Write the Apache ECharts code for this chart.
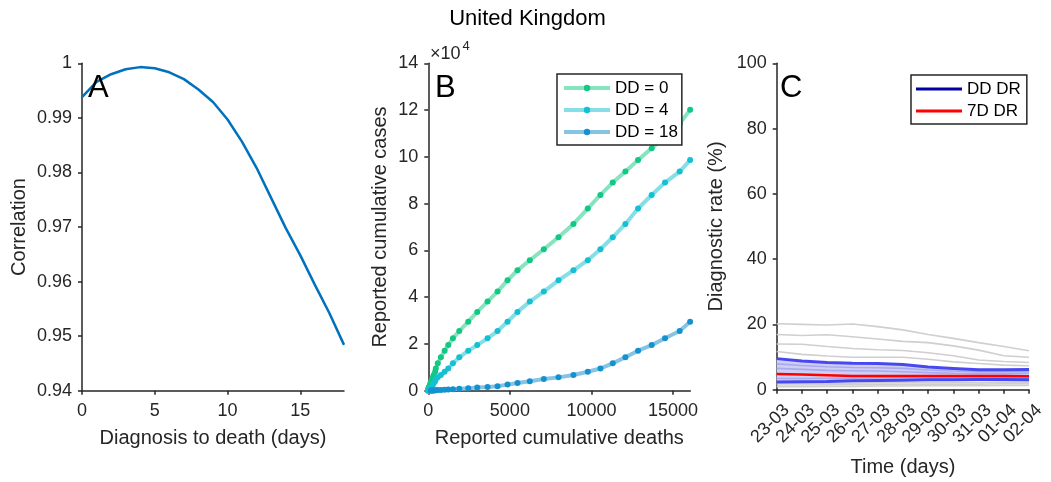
<!DOCTYPE html>
<html>
<head>
<meta charset="utf-8">
<script src="https://cdn.jsdelivr.net/npm/echarts@6/dist/echarts.min.js"></script>
<style>
html,body{margin:0;padding:0;background:#fff;}
#chart{width:1051px;height:482px;}
</style>
</head>
<body>
<div id="chart"></div>
<script>
// ---------- Panel A ----------
var ddDays = [0,1,2,3,4,5,6,7,8,9,10,11,12,13,14,15,16,17,18];
var correlation = [0.9938,0.9966,0.9980,0.9989,0.9993,0.9991,0.99835,0.9971,0.9952,0.9929,0.9897,0.9856,0.9808,0.9753,0.9698,0.9648,0.9594,0.9542,0.9484];
var aXTicks = [0,5,10,15];

// ---------- Panel B (daily, 01-03 .. 19-04) ----------
var cumDeaths = [0,0,0,0,1,1,2,2,3,6,
  8,8,10,21,35,55,71,104,144,177,
  233,280,335,420,460,580,770,1000,1224,1510,
  1898,2449,3000,3633,4245,4857,5469,6224,7082,7980,
  8898,9776,10551,11306,12082,12857,13694,14510,15408,16050];
var cumCases = [36,40,50,85,115,160,210,270,320,370,
  460,590,800,1060,1390,1550,1950,2600,3300,4000,
  5000,5700,6700,8100,9500,11700,14300,17100,19500,22400,
  25500,29500,33700,38100,42400,47200,51500,55800,60500,65600,
  71300,77900,83700,89000,93700,98600,103700,108700,114200,120100];
var ddValues = [0,4,18];
var ddNames = ['DD = 0','DD = 4','DD = 18'];
var bXTicks = [0,5000,10000,15000];

// ---------- Panel C ----------
var cDates = ['23-03','24-03','25-03','26-03','27-03','28-03','29-03','30-03','31-03','01-04','02-04'];
var gray1 = [20.2,20.0,19.8,20.1,19.3,18.3,16.9,15.7,14.4,13.2,11.9];
var gray2 = [16.9,16.6,16.8,16.2,15.5,14.8,14.4,13.4,12.1,10.4,9.9];
var gray3 = [14.0,13.9,13.2,12.6,12.2,12.0,11.3,10.4,9.1,8.6,8.3];
var gray4 = [11.7,10.8,10.3,9.9,9.9,9.9,9.3,8.5,8.0,7.5,7.3];
var grayLow1 = [1.9,1.9,2.0,2.0,2.1,2.1,2.2,2.2,2.2,2.3,2.3];
var grayLow2 = [1.4,1.4,1.5,1.5,1.6,1.6,1.7,1.7,1.7,1.8,1.8];
var grayLow3 = [0.9,0.9,1.0,1.0,1.1,1.1,1.2,1.2,1.2,1.3,1.3];
var ddUpper = [9.5,8.8,8.3,8.1,8.0,7.7,6.9,6.5,6.1,6.1,6.2];
var ddLower = [2.3,2.4,2.5,2.7,2.8,2.9,3.0,3.0,3.1,3.1,3.0];
var inner1 = [7.9,7.4,7.0,6.8,6.7,6.5,6.0,5.7,5.5,5.5,5.6];
var inner2 = [6.5,6.2,5.9,5.8,5.7,5.5,5.2,5.0,4.9,4.9,5.0];
var inner3 = [3.4,3.4,3.5,3.5,3.6,3.6,3.6,3.6,3.7,3.7,3.6];
var sevenD = [4.8,4.6,4.4,4.2,4.2,4.2,4.2,4.2,4.2,4.2,4.1];

var FONT = '"Liberation Sans", Arial, Helvetica, sans-serif';
var INK = '#262626';
var markerColors = ['#12c884','#14c0d2','#1492d0'];
var lineColors = ['#86e4bf','#86dfe7','#86c4e4'];

function axisBase(extra){
  var o = {
    axisLine:{show:true,onZero:false,lineStyle:{color:INK,width:1.5}},
    axisTick:{show:true,inside:false,length:4,lineStyle:{color:INK,width:1.5}},
    axisLabel:{color:INK,fontSize:18,fontFamily:FONT},
    splitLine:{show:false},
    nameLocation:'middle',
    nameTextStyle:{color:INK,fontSize:20,fontFamily:FONT}
  };
  for (var k in extra){
    if (typeof extra[k]==='object' && !Array.isArray(extra[k]) && o[k]) {
      for (var j in extra[k]) o[k][j]=extra[k][j];
    } else o[k]=extra[k];
  }
  return o;
}

var grids = [
  {left:82, top:63.3, width:262, height:327.4},
  {left:428.3, top:63.3, width:262, height:327.4},
  {left:776.7, top:63.3, width:259, height:327.4}
];

var series = [];
// A
series.push({type:'line', xAxisIndex:0, yAxisIndex:0, name:'corr',
  data: ddDays.map(function(d,i){return [d, correlation[i]];}),
  showSymbol:false, symbol:'none', lineStyle:{color:'#0072BD', width:2.5}, itemStyle:{color:'#0072BD'}, z:3});

// B
for (var s=0; s<ddValues.length; s++){
  var dd = ddValues[s], pts=[];
  for (var i=0; i+dd<cumDeaths.length; i++) pts.push([cumDeaths[i+dd], cumCases[i]]);
  series.push({type:'line', xAxisIndex:1, yAxisIndex:1, name:ddNames[s], data:pts,
    symbol:'circle', symbolSize:6, showSymbol:true,
    itemStyle:{color:markerColors[s], borderWidth:0},
    lineStyle:{color:lineColors[s], width:4}, z:3+s});
}

// C
function cLine(name, data, color, width, z){
  return {type:'line', xAxisIndex:2, yAxisIndex:2, name:name, data:data, symbol:'none', showSymbol:false,
    lineStyle:{color:color, width:width}, itemStyle:{color:color}, z:z};
}
[gray1,gray2,gray3,gray4,grayLow1,grayLow2,grayLow3].forEach(function(g,idx){
  series.push(cLine('g'+idx, g, '#cfcfcf', 1.6, 2));
});
series.push({type:'line', xAxisIndex:2, yAxisIndex:2, name:'bandBase', data:ddLower, stack:'band',
  symbol:'none', lineStyle:{opacity:0}, z:3});
series.push({type:'line', xAxisIndex:2, yAxisIndex:2, name:'bandFill',
  data: ddUpper.map(function(v,i){return +(v-ddLower[i]).toFixed(3);}), stack:'band',
  symbol:'none', lineStyle:{opacity:0}, areaStyle:{color:'#cfcff4', opacity:1}, z:3});
[inner1,inner2,inner3].forEach(function(g,idx){
  series.push(cLine('in'+idx, g, '#a9a9ef', 1.6, 4));
});
series.push(cLine('DD DR', ddUpper, '#4848f0', 3, 5));
series.push(cLine('ddLow', ddLower, '#4848f0', 3, 5));
series.push(cLine('7D DR', sevenD, '#ff0000', 2.5, 6));

var option = {
  animation:false,
  backgroundColor:'#ffffff',
  textStyle:{fontFamily:FONT},
  grid: grids,
  xAxis: [
    axisBase({gridIndex:0, type:'value', min:0, max:18, name:'Diagnosis to death (days)', nameGap:38,
      axisTick:{customValues:aXTicks}, axisLabel:{customValues:aXTicks, margin:11}}),
    axisBase({gridIndex:1, type:'value', min:0, max:16060, name:'Reported cumulative deaths', nameGap:38,
      axisTick:{customValues:bXTicks}, axisLabel:{customValues:bXTicks, margin:11, formatter:function(v){return String(v);}}}),
    axisBase({gridIndex:2, type:'category', data:cDates, boundaryGap:false, name:'Time (days)', nameGap:66,
      axisTick:{alignWithLabel:true, interval:0},
      axisLabel:{rotate:45, interval:0, margin:8, verticalAlign:'top', lineHeight:28}})
  ],
  yAxis: [
    axisBase({gridIndex:0, type:'value', min:0.94, max:1, interval:0.01, name:'Correlation', nameRotate:90, nameGap:53,
      axisLabel:{margin:10, formatter:function(v){return String(+v.toFixed(2));}}}),
    axisBase({gridIndex:1, type:'value', min:0, max:140000, interval:20000, name:'Reported cumulative cases', nameRotate:90, nameGap:38,
      axisLabel:{margin:10, formatter:function(v){return String(Math.round(v/10000));}}}),
    axisBase({gridIndex:2, type:'value', min:0, max:100, interval:20, name:'Diagnostic rate (%)', nameRotate:90, nameGap:50,
      axisLabel:{margin:10}})
  ],
  legend: [
    {orient:'vertical', left:557, top:74, padding:[5,4,4,5], itemWidth:46, itemHeight:8, itemGap:4,
     borderColor:INK, borderWidth:1.5, backgroundColor:'#fff',
     lineStyle:{width:4},
     textStyle:{fontSize:17, lineHeight:18, color:'#000', fontFamily:FONT},
     data:ddNames},
    {orient:'vertical', left:911, top:75, padding:[5,6,4,5], itemWidth:46, itemHeight:3, itemGap:4,
     borderColor:INK, borderWidth:1.5, backgroundColor:'#fff',
     textStyle:{fontSize:17, lineHeight:18, color:'#000', fontFamily:FONT},
     data:[{name:'DD DR', icon:'rect', itemStyle:{color:'#0000a0'}},
           {name:'7D DR', icon:'rect', itemStyle:{color:'#ff0000'}}]}
  ],
  graphic: [
    {type:'text', x:527.5, y:18.5, style:{text:'United Kingdom', font:'22px '+FONT, fill:'#000', align:'center', verticalAlign:'middle'}},
    {type:'text', x:88, y:88, z:10, style:{text:'A', font:'31px '+FONT, fill:'#000', align:'left', verticalAlign:'middle'}},
    {type:'text', x:435, y:88, z:10, style:{text:'B', font:'31px '+FONT, fill:'#000', align:'left', verticalAlign:'middle'}},
    {type:'text', x:780, y:88, z:10, style:{text:'C', font:'31px '+FONT, fill:'#000', align:'left', verticalAlign:'middle'}},
    {type:'text', x:430, y:54, style:{text:'\u00d710', font:'18px '+FONT, fill:INK, align:'left', verticalAlign:'middle'}},
    {type:'text', x:462.5, y:46, style:{text:'4', font:'13px '+FONT, fill:INK, align:'left', verticalAlign:'middle'}}
  ],
  series: series
};

var chart = echarts.init(document.getElementById('chart'), null, {renderer:'canvas'});
chart.setOption(option);
</script>
</body>
</html>
